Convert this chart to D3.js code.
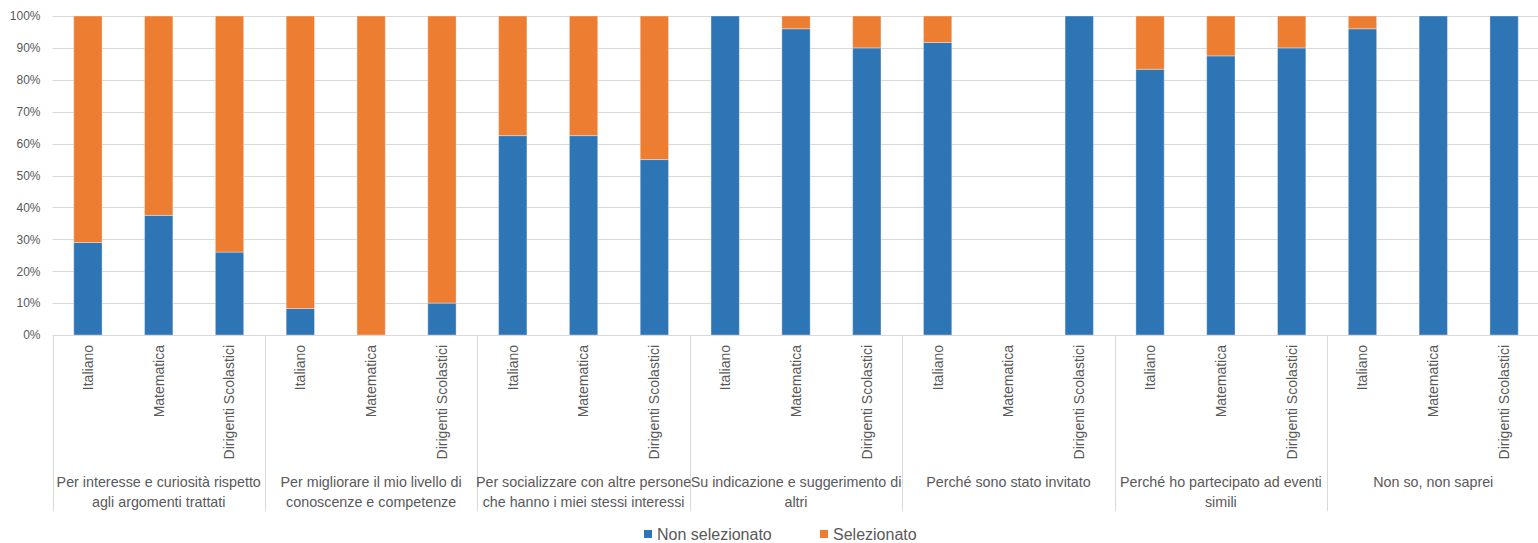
<!DOCTYPE html>
<html><head><meta charset="utf-8">
<script src="https://cdn.jsdelivr.net/npm/d3@7"></script>
<style>
body{margin:0;background:#fff;}
svg{display:block;font-family:"Liberation Sans",Arial,sans-serif;}
</style></head><body>
<svg id="c" width="1538" height="543"></svg>
<script>
const groups = [
  ["Per interesse e curiosità rispetto","agli argomenti trattati"],
  ["Per migliorare il mio livello di","conoscenze e competenze"],
  ["Per socializzare con altre persone","che hanno i miei stessi interessi"],
  ["Su indicazione e suggerimento di","altri"],
  ["Perché sono stato invitato"],
  ["Perché ho partecipato ad eventi","simili"],
  ["Non so, non saprei"]
];
const subCategories = ["Italiano","Matematica","Dirigenti Scolastici"];
const seriesNames = ["Non selezionato","Selezionato"];
// per group: [Italiano, Matematica, Dirigenti Scolastici]
const nonSelezionato = [
  [0.29, 0.375, 0.26],
  [0.083, 0.0, 0.10],
  [0.625, 0.625, 0.55],
  [1.0, 0.96, 0.90],
  [0.917, 0.0, 1.0],
  [0.833, 0.875, 0.90],
  [0.96, 1.0, 1.0]
];
const selezionato = [
  [0.71, 0.625, 0.74],
  [0.917, 1.0, 0.90],
  [0.375, 0.375, 0.45],
  [0.0, 0.04, 0.10],
  [0.083, 0.0, 0.0],
  [0.167, 0.125, 0.10],
  [0.04, 0.0, 0.0]
];
const yTicks = [0,0.1,0.2,0.3,0.4,0.5,0.6,0.7,0.8,0.9,1.0];
const colors = ["#2e75b6","#ed7d31"];

const svg = d3.select("#c");
const mLeft = 52.5, mRight = 1539.5, mTop = 16, mBottom = 335;

const rows = [];
groups.forEach((g,gi)=>subCategories.forEach((s,si)=>{
  rows.push({key:gi+"_"+si, gi, si, sub:s, a:nonSelezionato[gi][si], b:selezionato[gi][si]});
}));

const x = d3.scaleBand().domain(rows.map(r=>r.key)).range([mLeft,mRight]).paddingInner(0.6).paddingOuter(0.3);
const y = d3.scaleLinear().domain([0,1]).range([mBottom,mTop]);

// gridlines
svg.append("g").selectAll("line").data(yTicks.filter(t=>t>0)).join("line")
  .attr("x1",mLeft).attr("x2",mRight).attr("y1",d=>Math.round(y(d))+0.5).attr("y2",d=>Math.round(y(d))+0.5)
  .attr("stroke","#d9d9d9").attr("stroke-width",1);

// y axis labels
const yAxis = d3.axisLeft(y).tickValues(yTicks).tickFormat(d3.format(".0%")).tickSize(0).tickPadding(12);
const ya = svg.append("g").attr("transform",`translate(${mLeft},0)`).call(yAxis);
ya.select(".domain").remove();
ya.selectAll("text").attr("fill","#595959").attr("font-size","12px").attr("font-family","Liberation Sans, Arial, sans-serif");

// stacked bars
const stack = d3.stack().keys(["a","b"]);
const stacked = stack(rows);
svg.append("g").selectAll("g").data(stacked).join("g").attr("fill",(d,i)=>colors[i])
  .selectAll("rect").data(d=>d.filter(p=>p[1]-p[0]>0)).join("rect")
  .attr("x",d=>x(d.data.key)).attr("width",x.bandwidth())
  .attr("y",d=>y(d[1])).attr("height",d=>y(d[0])-y(d[1]))
  .attr("stroke","#ffffff").attr("stroke-opacity",0.35).attr("stroke-width",1);

// bottom axis line
svg.append("line").attr("x1",mLeft).attr("x2",mRight).attr("y1",mBottom+0.5).attr("y2",mBottom+0.5)
  .attr("stroke","#d9d9d9");

// group separators
const step = x.step();
const groupEdges = d3.range(groups.length+1).map(i=>mLeft + i*3*step);
svg.append("g").selectAll("line").data(groupEdges).join("line")
  .attr("x1",d=>Math.round(d)+0.5).attr("x2",d=>Math.round(d)+0.5)
  .attr("y1",mBottom).attr("y2",511).attr("stroke","#d9d9d9");

// category labels rotated
svg.append("g").selectAll("text").data(rows).join("text")
  .attr("transform",d=>`translate(${x(d.key)+x.bandwidth()/2},345) rotate(-90)`)
  .attr("text-anchor","end").attr("dy","0.35em")
  .attr("fill","#595959").attr("font-size","14px").text(d=>d.sub);

// group labels
const gl = svg.append("g").selectAll("text").data(groups).join("text")
  .attr("x",(d,i)=>mLeft + (i*3+1.5)*step).attr("y",487)
  .attr("text-anchor","middle").attr("fill","#595959").attr("font-size","14.3px");
gl.selectAll("tspan").data(d=>d).join("tspan")
  .attr("x",function(){return d3.select(this.parentNode).attr("x");})
  .attr("dy",(d,i)=>i===0?0:19.5).text(d=>d);

// legend
const lg = svg.append("g").attr("transform","translate(644,534)");
const items = [{n:seriesNames[0],c:colors[0],x:0},{n:seriesNames[1],c:colors[1],x:176}];
const li = lg.selectAll("g").data(items).join("g").attr("transform",d=>`translate(${d.x},0)`);
li.append("rect").attr("x",0).attr("y",-4).attr("width",8).attr("height",8).attr("fill",d=>d.c);
li.append("text").attr("x",13).attr("dy","0.35em").attr("fill","#595959").attr("font-size","16px").text(d=>d.n);
</script>
</body></html>
